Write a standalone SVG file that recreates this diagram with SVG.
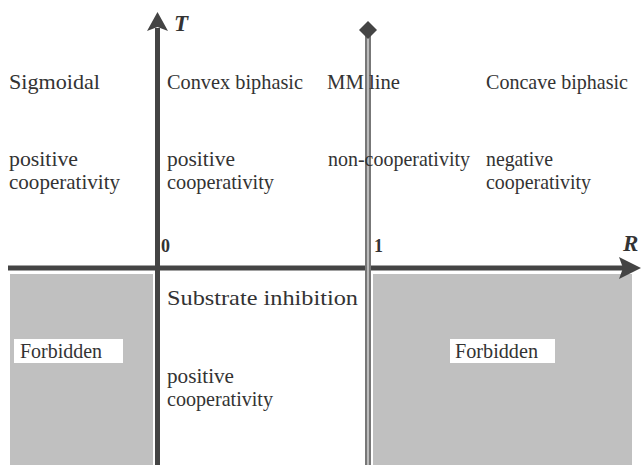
<svg xmlns="http://www.w3.org/2000/svg" width="641" height="465" viewBox="0 0 641 465">
<style>
.t{font-family:"Liberation Serif","Times New Roman",serif;font-size:21px;fill:#333}
.b{font-family:"Liberation Serif","Times New Roman",serif;font-weight:bold;fill:#333}
.ax{stroke:#444;stroke-width:5;fill:none}
.forb{fill:#c0c0c0}
.box{fill:#fff}
</style>
<rect width="641" height="465" fill="#fff"/>
<g id="region-forbidden-left">
<rect class="forb" x="10" y="274" width="143" height="191"/>
<rect class="box" x="14" y="339" width="109" height="24"/>
<text class="t" x="20" y="358" textLength="82" lengthAdjust="spacingAndGlyphs">Forbidden</text>
</g>
<g id="region-forbidden-right">
<rect class="forb" x="373" y="274" width="259" height="191"/>
<rect class="box" x="450" y="339" width="105" height="24"/>
<text class="t" x="455" y="358" textLength="83" lengthAdjust="spacingAndGlyphs">Forbidden</text>
</g>
<g id="connectors">
<line class="ax" x1="8" y1="268" x2="624" y2="268"/>
<polygon points="641,268 619,257 623,268 619,279" fill="#444"/>
<line class="ax" x1="157.5" y1="465" x2="157.5" y2="28"/>
<polygon points="157.5,12 147,31 157.5,27 168,31" fill="#444"/>
<rect x="365" y="36" width="6" height="429" fill="#777"/>
<rect x="367" y="36" width="2" height="429" fill="#bbb"/>
<polygon points="368,21 377,30 368,39 359,30" fill="#444"/>
</g>
<g id="labels-axes">
<text class="b" x="174" y="31" font-size="23" font-style="italic">T</text>
<text class="b" x="623" y="251" font-size="23" font-style="italic">R</text>
<text class="b" x="161" y="252" font-size="18">0</text>
<text class="b" x="374" y="252" font-size="18">1</text>
</g>
<g id="sigmoidal">
<text class="t" x="9" y="89" textLength="91" lengthAdjust="spacingAndGlyphs">Sigmoidal</text>
<text class="t" x="9" y="166" textLength="69" lengthAdjust="spacingAndGlyphs">positive</text>
<text class="t" x="9" y="189" textLength="111" lengthAdjust="spacingAndGlyphs">cooperativity</text>
</g>
<g id="convex">
<text class="t" x="167" y="89" textLength="136" lengthAdjust="spacingAndGlyphs">Convex biphasic</text>
<text class="t" x="167" y="166" textLength="68" lengthAdjust="spacingAndGlyphs">positive</text>
<text class="t" x="167" y="189" textLength="107" lengthAdjust="spacingAndGlyphs">cooperativity</text>
</g>
<g id="mm">
<text class="t" x="327" y="89" textLength="73" lengthAdjust="spacingAndGlyphs">MM line</text>
<text class="t" x="328" y="166" textLength="142" lengthAdjust="spacingAndGlyphs">non-cooperativity</text>
</g>
<g id="concave">
<text class="t" x="486" y="89" textLength="142" lengthAdjust="spacingAndGlyphs">Concave biphasic</text>
<text class="t" x="486" y="166" textLength="67" lengthAdjust="spacingAndGlyphs">negative</text>
<text class="t" x="486" y="189" textLength="105" lengthAdjust="spacingAndGlyphs">cooperativity</text>
</g>
<g id="substrate">
<text class="t" x="167" y="305" textLength="191" lengthAdjust="spacingAndGlyphs">Substrate inhibition</text>
<text class="t" x="167" y="383" textLength="67" lengthAdjust="spacingAndGlyphs">positive</text>
<text class="t" x="167" y="406" textLength="106" lengthAdjust="spacingAndGlyphs">cooperativity</text>
</g>
</svg>
